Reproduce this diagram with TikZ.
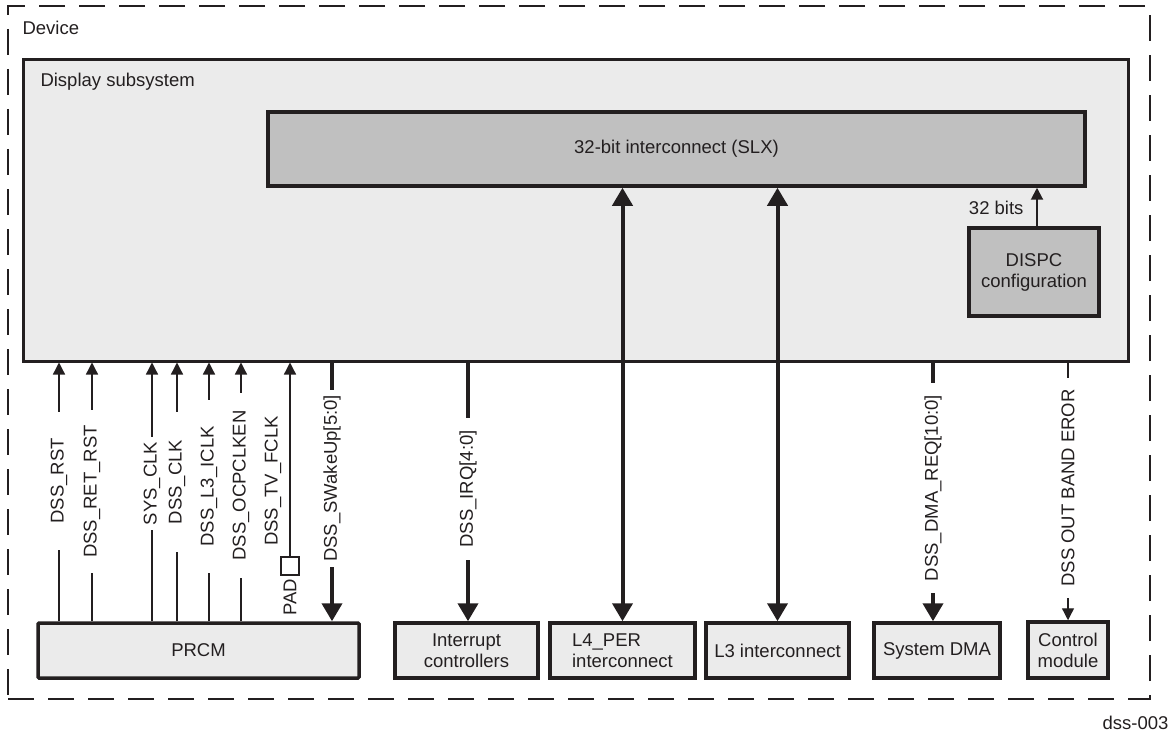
\documentclass[tikz,border=0pt]{standalone}
\usepackage{fontspec}
\setmainfont{Liberation Sans}
\usetikzlibrary{arrows.meta}

\definecolor{ink}{HTML}{231F20}
\definecolor{boxgray}{HTML}{EBEBEB}
\definecolor{slxgray}{HTML}{C0C0C0}

\begin{document}
\begin{tikzpicture}[
  x=1pt, y=-1pt,
  every node/.style={font=\fontsize{18.5}{21}\selectfont, text=ink},
  blk/.style={draw=ink, fill=boxgray, line width=3.5pt, inner sep=0pt,
              align=center},
  hub/.style={blk, fill=slxgray},
  sgl/.style={rotate=90, inner sep=0pt},
  wire/.style={ink, line width=1.3pt},
  ar/.style={wire, -{Triangle[length=12pt,width=12pt]}},
  bus/.style={ink, line width=4pt},
  bar/.style={bus, -{Triangle[length=18pt,width=20pt]}},
  dbar/.style={bus, {Triangle[length=18pt,width=20pt]}-{Triangle[length=18pt,width=20pt]}}
]
\useasboundingbox (0,0) rectangle (1176,733);

% device and display subsystem
\node[draw=ink, line width=2.5pt, dash pattern=on 26pt off 14pt,
      minimum width=1142pt, minimum height=693pt] (dev) at (579,352.5) {};
\node[anchor=west] (devlbl) at (19,28) {Device};
\node[blk, line width=3pt, minimum width=1105pt, minimum height=301pt]
  (dss) at (575.5,210.5) {};
\node[anchor=west] (dsslbl) at (37,82) {Display subsystem};
\node[hub, minimum width=817pt, minimum height=74pt] (slx) at (676.5,149)
  {32-bit interconnect (SLX)};
\node[hub, line width=4pt, minimum width=130pt, minimum height=88pt]
  (dispc) at (1034,272) {DISPC\\configuration};
\node[anchor=east] (bits) at (1027,208) {32 bits};

% modules outside the DSS
\node[blk, rounded corners=1pt, minimum width=321pt, minimum height=55pt]
  (prcm) at (198.5,650.5) {PRCM};
\node[blk, minimum width=143pt, minimum height=55pt] (irqc) at (466.5,650.5)
  {Interrupt\\controllers};
\node[blk, align=left, minimum width=145pt, minimum height=55pt]
  (l4) at (622.5,650.5) {L4\_PER\\interconnect};
\node[blk, minimum width=143pt, minimum height=55pt] (l3) at (777.5,650.5)
  {L3 interconnect};
\node[blk, minimum width=126pt, minimum height=55pt] (sdma) at (937,650.5)
  {System DMA};
\node[blk, minimum width=80pt, minimum height=56pt] (ctrl) at (1068,650)
  {Control\\module};
\node[anchor=east] (figid) at (1172,723) {dss-003};

% PRCM signals
\node[sgl, minimum width=138pt] (lrst) at (59,481) {DSS\_RST};
\node[sgl, minimum width=163pt] (lret) at (92,491.5) {DSS\_RET\_RST};
\node[sgl, minimum width=93pt] (lsys) at (152,483.5) {SYS\_CLK};
\node[sgl, minimum width=140pt] (lclk) at (177,482) {DSS\_CLK};
\node[sgl, minimum width=173pt] (ll3) at (209,486.5) {DSS\_L3\_ICLK};
\node[sgl, minimum width=185pt] (locp) at (241,485.5) {DSS\_OCPCLKEN};
\node[sgl] (ltv) at (273,481) {DSS\_TV\_FCLK};
\node[draw=ink, fill=white, line width=1.3pt, minimum size=18pt,
      inner sep=0pt] (pad) at (290,566) {};
\node[sgl] (padlbl) at (290,597) {PAD};
\node[sgl, minimum width=177pt] (lswk) at (332,478.5) {DSS\_SWakeUp[5:0]};

\draw[wire] (prcm.north -| lrst) -- (lrst.west);
\draw[ar] (lrst.east) -- (dss.south -| lrst);
\draw[wire] (prcm.north -| lret) -- (lret.west);
\draw[ar] (lret.east) -- (dss.south -| lret);
\draw[wire] (prcm.north -| lsys) -- (lsys.west);
\draw[ar] (lsys.east) -- (dss.south -| lsys);
\draw[wire] (prcm.north -| lclk) -- (lclk.west);
\draw[ar] (lclk.east) -- (dss.south -| lclk);
\draw[wire] (prcm.north -| ll3) -- (ll3.west);
\draw[ar] (ll3.east) -- (dss.south -| ll3);
\draw[wire] (prcm.north -| locp) -- (locp.west);
\draw[ar] (locp.east) -- (dss.south -| locp);
\draw[ar] (pad.north) -- (pad.north |- dss.south);
\draw[bus] (dss.south -| lswk) -- (lswk.east);
\draw[bar] (lswk.west) -- (prcm.north -| lswk);

% other DSS connections
\node[sgl, minimum width=142pt] (lirq) at (468,489) {DSS\_IRQ[4:0]};
\node[sgl, minimum width=210pt] (ldma) at (933,488) {DSS\_DMA\_REQ[10:0]};
\node[sgl, minimum width=220pt] (lctl) at (1068,488) {DSS OUT BAND EROR};

\draw[bus] (dss.south -| lirq) -- (lirq.east);
\draw[bar] (lirq.west) -- (irqc.north -| lirq);
\draw[dbar] (l4.north) -- (l4.north |- slx.south);
\draw[dbar] (l3.north) -- (l3.north |- slx.south);
\draw[bus] (dss.south -| ldma) -- (ldma.east);
\draw[bar] (ldma.west) -- (sdma.north -| ldma);
\draw[wire] (dss.south -| lctl) -- (lctl.east);
\draw[ar] (lctl.west) -- (ctrl.north);
\draw[ar, line width=2pt] ([xshift=3pt]dispc.north)
  -- ([xshift=3pt]dispc.north |- slx.south);

\end{tikzpicture}
\end{document}
